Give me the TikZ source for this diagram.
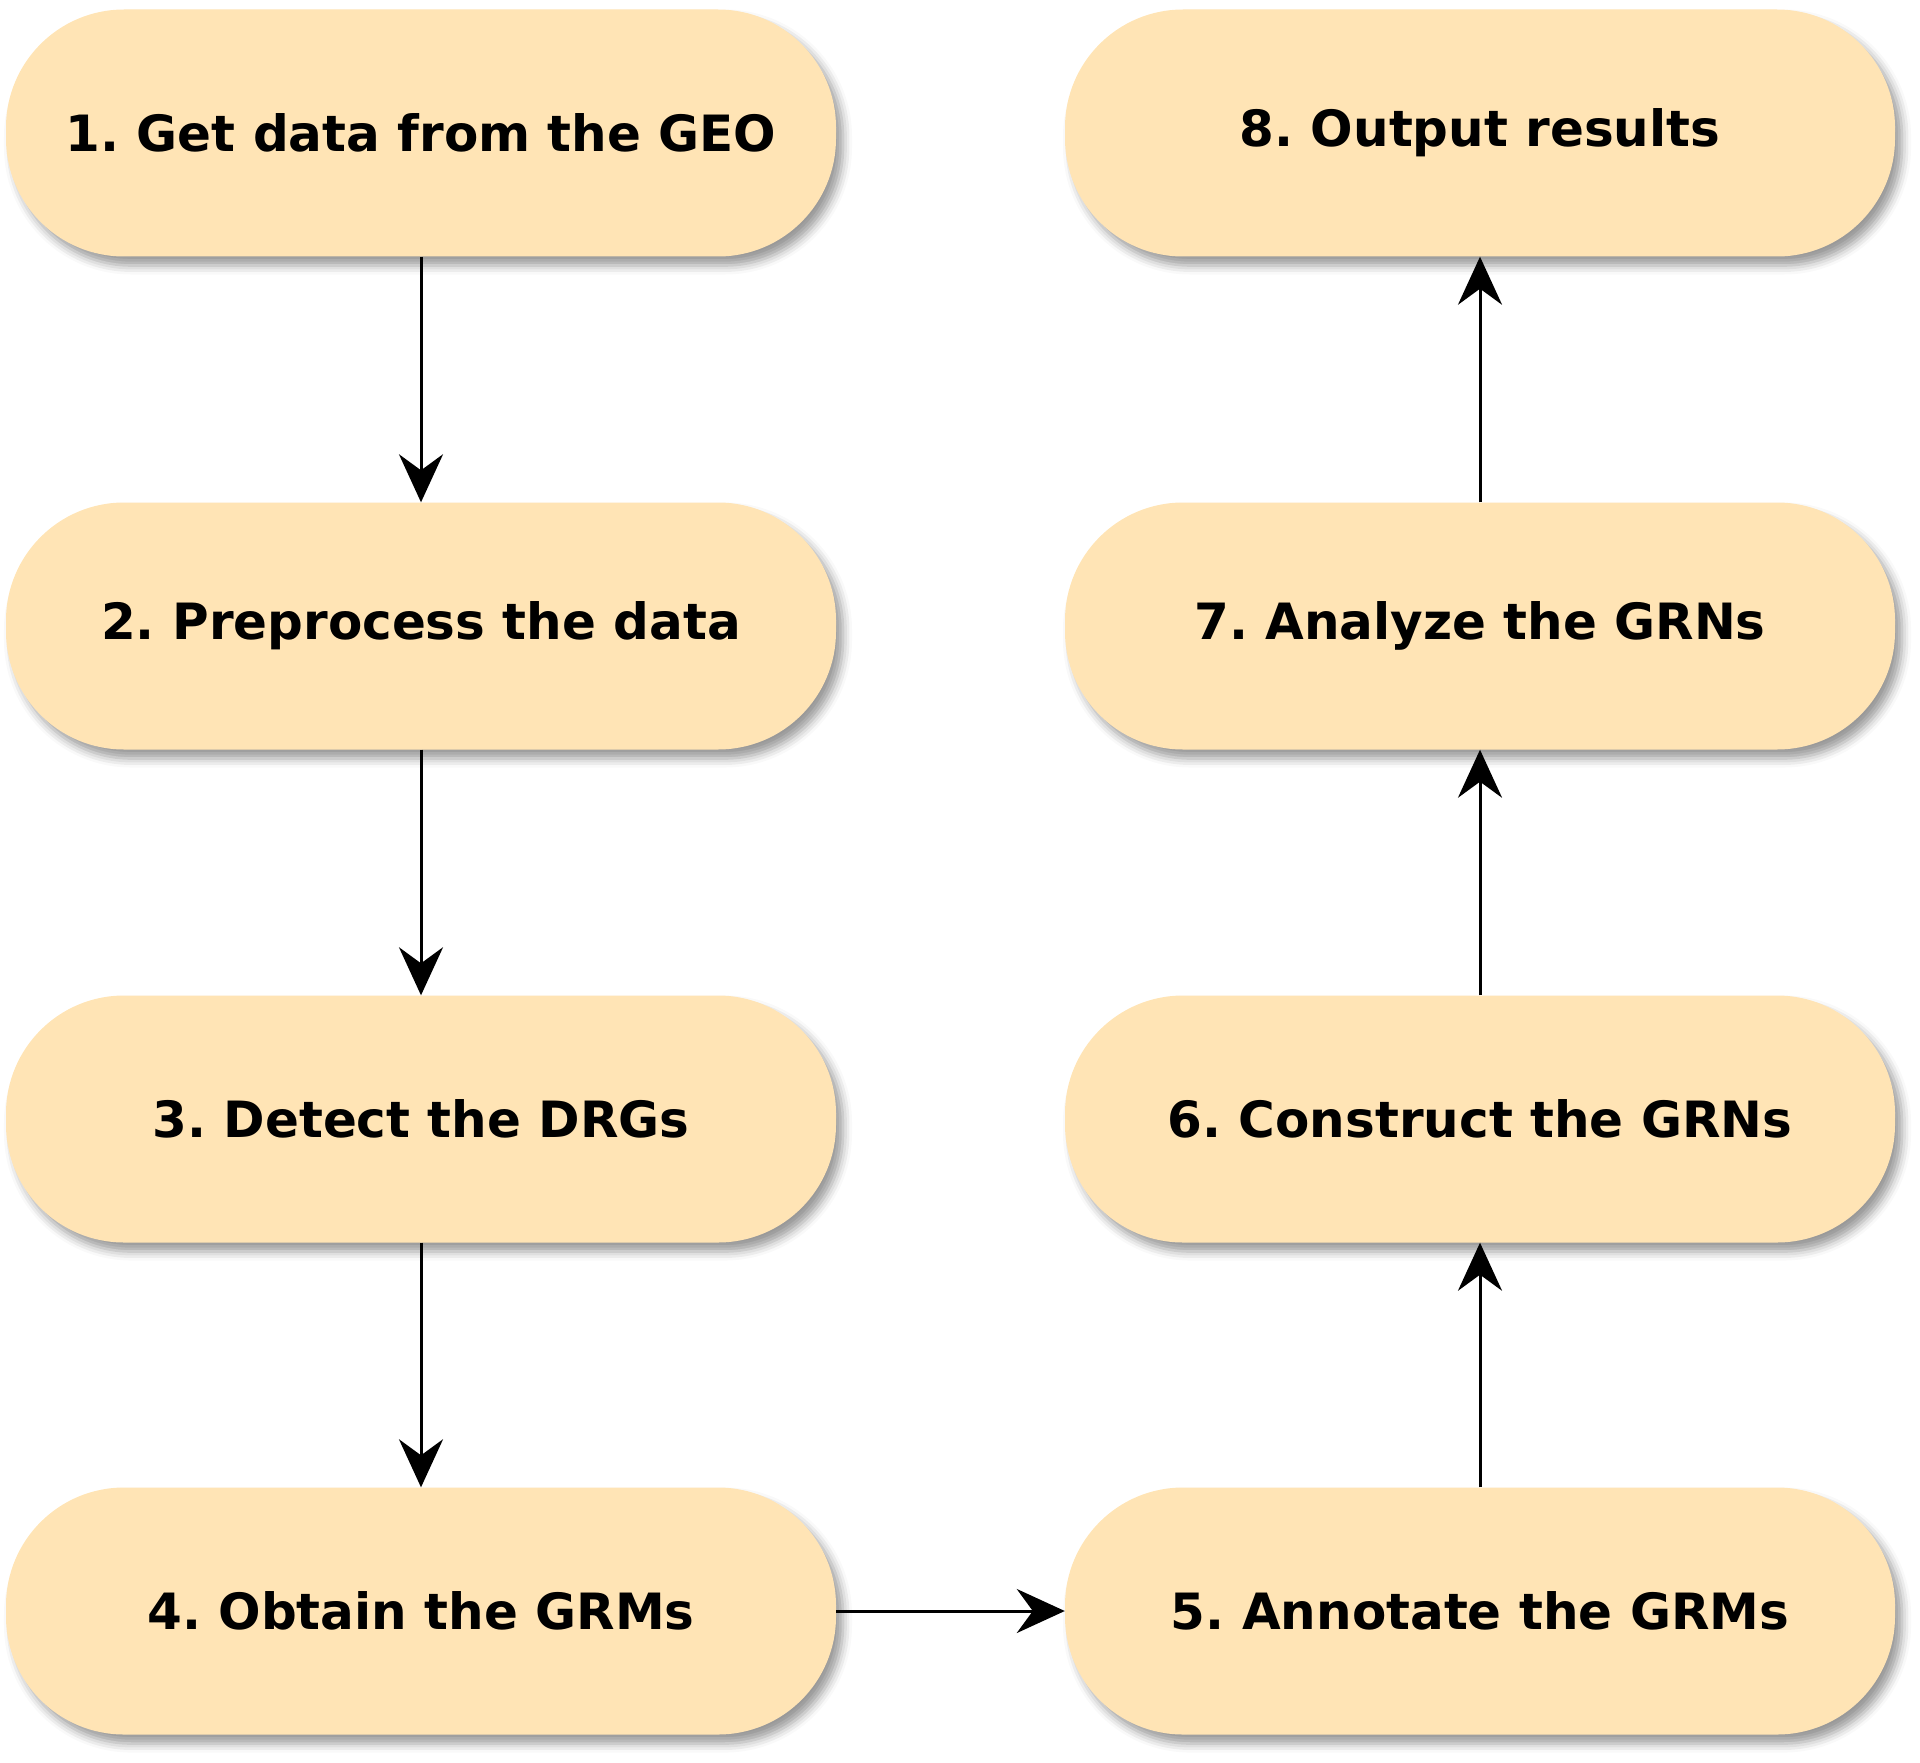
\documentclass[tikz,border=0pt]{standalone}
\usepackage{fontspec}
\setmainfont{DejaVu Sans}
\usetikzlibrary{shadows.blur,arrows.meta}
\definecolor{boxfill}{HTML}{FFE4B5}
\frenchspacing
\tikzset{
  stepbox/.style={rectangle, rounded corners=118pt, fill=boxfill, minimum width=830pt, minimum height=247pt,
    font=\fontsize{50}{60}\selectfont\bfseries, text=black,
    blur shadow={shadow xshift=7pt, shadow yshift=-9pt, shadow blur radius=9pt, shadow opacity=40}},
  flow/.style={line width=3pt, -{Stealth[length=48pt, width=44pt, inset=16pt]}}
}
\begin{document}
\begin{tikzpicture}[x=1pt,y=-1pt]
\useasboundingbox (0,0) rectangle (1920,1763);
\node[stepbox] (n1) at (421,133) {1. Get data from the GEO};
\node[stepbox] (n2) at (421,626) {2. Preprocess the data};
\node[stepbox] (n3) at (421,1119) {3. Detect the DRGs};
\node[stepbox] (n4) at (421,1611) {4. Obtain the GRMs};
\node[stepbox] (n5) at (1480,1611) {5. Annotate the GRMs};
\node[stepbox] (n6) at (1480,1119) {6. Construct the GRNs};
\node[stepbox] (n7) at (1480,626) {7. Analyze the GRNs};
\node[stepbox] (n8) at (1480,133) {8. Output results};
\draw[flow] (n1) -- (n2);
\draw[flow] (n2) -- (n3);
\draw[flow] (n3) -- (n4);
\draw[flow] (n4) -- (n5);
\draw[flow] (n5) -- (n6);
\draw[flow] (n6) -- (n7);
\draw[flow] (n7) -- (n8);
\end{tikzpicture}
\end{document}
